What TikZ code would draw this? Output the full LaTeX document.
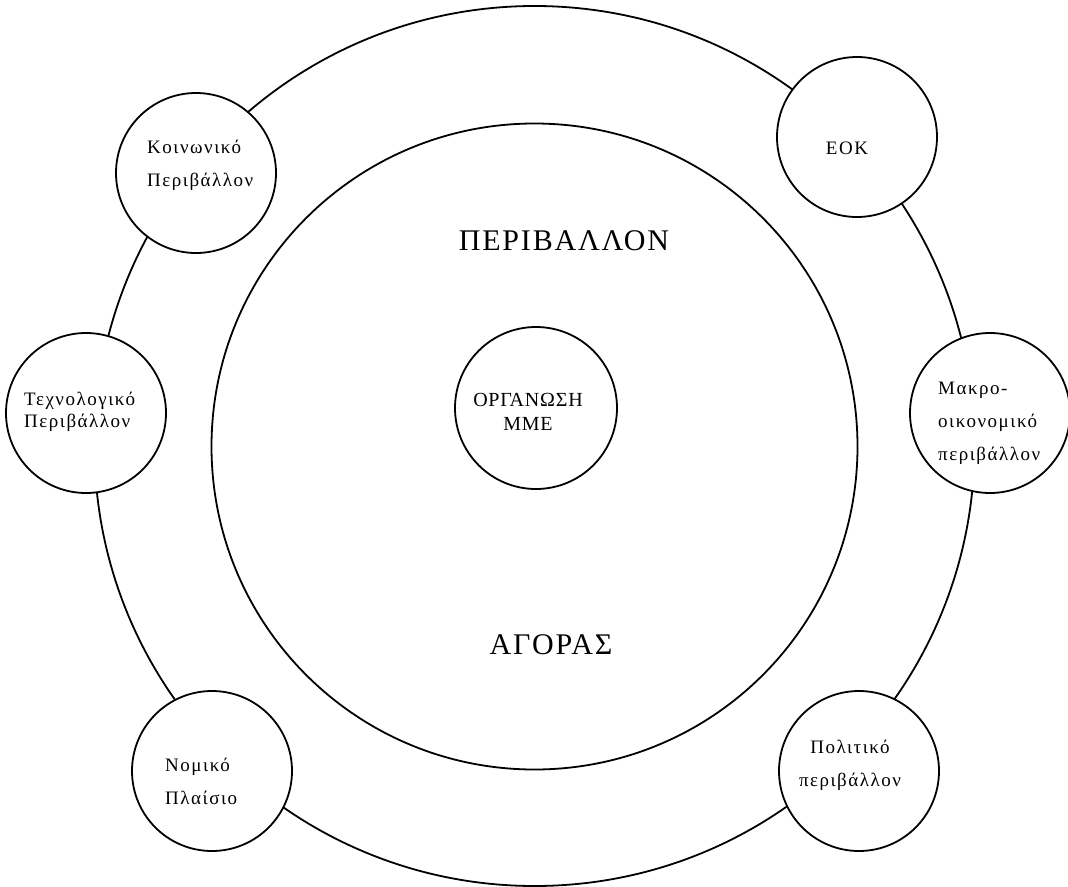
\documentclass[tikz,border=0pt]{standalone}
\usepackage{fontspec}
\setmainfont{Liberation Serif}
\newfontfamily\smallgk[LetterSpace=8]{Liberation Serif}
\newfontfamily\midgk[LetterSpace=4]{Liberation Serif}
\newfontfamily\biggk[LetterSpace=6]{Liberation Serif}
\begin{document}
\begin{tikzpicture}[x=1pt,y=-1pt,
  ring/.style={circle,draw,line width=1.8pt,inner sep=0pt},
  sat/.style={ring,fill=white,minimum size=160pt},
  lbl/.style={font={\smallgk\fontsize{19}{33}\selectfont},align=left,inner sep=0pt},
  corelbl/.style={font={\midgk\fontsize{20}{24}\selectfont},align=center,inner sep=0pt},
  biglbl/.style={font={\biggk\fontsize{30}{36}\selectfont},inner sep=0pt}]
\useasboundingbox (0,0) rectangle (1068,886);
\node[ring,minimum size=880pt] (outer) at (534.5,446) {};
\node[ring,minimum size=646pt] (inner) at (534.5,446.5) {};
\node[ring,minimum size=162pt] (core) at (536,408) {};
\node[sat] (koin) at (196,173) {};
\node[sat] (eok) at (857,137) {};
\node[sat] (tech) at (86,413) {};
\node[sat] (makro) at (990,413) {};
\node[sat] (nomiko) at (212,771) {};
\node[sat] (polit) at (859,771) {};
\node[lbl,anchor=west] (koinT) at (147,165) {Κοινωνικό\\Περιβάλλον};
\node[lbl] (eokT) at (847,148) {ΕΟΚ};
\node[lbl,anchor=west,font={\smallgk\fontsize{19}{22}\selectfont}] (techT) at (24,412) {Τεχνολογικό\\Περιβάλλον};
\node[lbl,anchor=west] (makroT) at (938,423) {Μακρο-\\οικονομικό\\περιβάλλον};
\node[lbl,anchor=west] (nomT) at (165,781) {Νομικό\\Πλαίσιο};
\node[lbl,align=center] (politT) at (850,765) {Πολιτικό\\περιβάλλον};
\node[corelbl] (coreT) at (528,412) {ΟΡΓΑΝΩΣΗ\\ΜΜΕ};
\node[biglbl] (perT) at (564,241) {ΠΕΡΙΒΑΛΛΟΝ};
\node[biglbl] (agT) at (551,645) {ΑΓΟΡΑΣ};
\end{tikzpicture}
\end{document}
